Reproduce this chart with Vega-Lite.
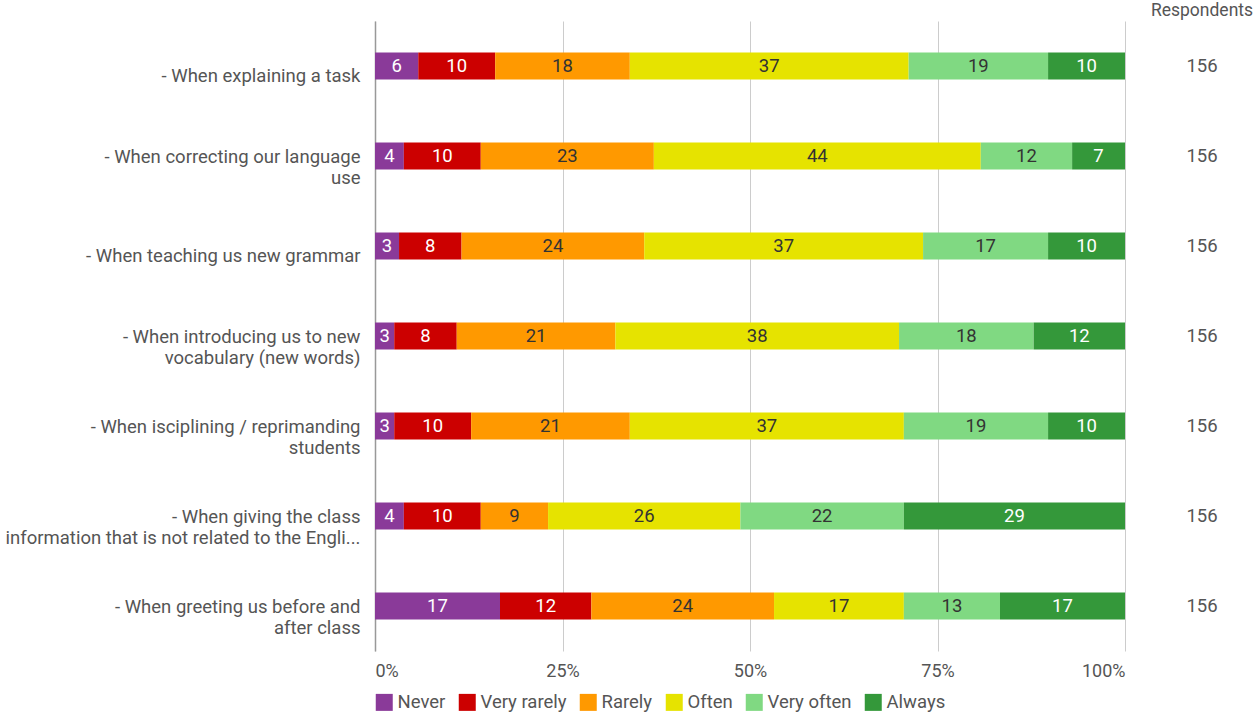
{
  "$schema": "https://vega.github.io/schema/vega-lite/v6.json",
  "padding": {"left": 5, "top": 1, "right": 0, "bottom": 0},
  "background": "white",
  "config": {
    "font": "Roboto",
    "view": {"stroke": null},
    "axis": {"labelFont": "Roboto", "labelColor": "#555555", "titleFont": "Roboto"},
    "legend": {"labelFont": "Roboto"}
  },
  "datasets": {
    "resp": [
      {"q": "- When explaining a task", "cat": "Never", "k": 1, "n": 9, "pct": 6},
      {"q": "- When explaining a task", "cat": "Very rarely", "k": 2, "n": 16, "pct": 10},
      {"q": "- When explaining a task", "cat": "Rarely", "k": 3, "n": 28, "pct": 18},
      {"q": "- When explaining a task", "cat": "Often", "k": 4, "n": 58, "pct": 37},
      {"q": "- When explaining a task", "cat": "Very often", "k": 5, "n": 29, "pct": 19},
      {"q": "- When explaining a task", "cat": "Always", "k": 6, "n": 16, "pct": 10},
      {"q": "- When correcting our language\nuse", "cat": "Never", "k": 1, "n": 6, "pct": 4},
      {"q": "- When correcting our language\nuse", "cat": "Very rarely", "k": 2, "n": 16, "pct": 10},
      {"q": "- When correcting our language\nuse", "cat": "Rarely", "k": 3, "n": 36, "pct": 23},
      {"q": "- When correcting our language\nuse", "cat": "Often", "k": 4, "n": 68, "pct": 44},
      {"q": "- When correcting our language\nuse", "cat": "Very often", "k": 5, "n": 19, "pct": 12},
      {"q": "- When correcting our language\nuse", "cat": "Always", "k": 6, "n": 11, "pct": 7},
      {"q": "- When teaching us new grammar", "cat": "Never", "k": 1, "n": 5, "pct": 3},
      {"q": "- When teaching us new grammar", "cat": "Very rarely", "k": 2, "n": 13, "pct": 8},
      {"q": "- When teaching us new grammar", "cat": "Rarely", "k": 3, "n": 38, "pct": 24},
      {"q": "- When teaching us new grammar", "cat": "Often", "k": 4, "n": 58, "pct": 37},
      {"q": "- When teaching us new grammar", "cat": "Very often", "k": 5, "n": 26, "pct": 17},
      {"q": "- When teaching us new grammar", "cat": "Always", "k": 6, "n": 16, "pct": 10},
      {"q": "- When introducing us to new\nvocabulary (new words)", "cat": "Never", "k": 1, "n": 4, "pct": 3},
      {"q": "- When introducing us to new\nvocabulary (new words)", "cat": "Very rarely", "k": 2, "n": 13, "pct": 8},
      {"q": "- When introducing us to new\nvocabulary (new words)", "cat": "Rarely", "k": 3, "n": 33, "pct": 21},
      {"q": "- When introducing us to new\nvocabulary (new words)", "cat": "Often", "k": 4, "n": 59, "pct": 38},
      {"q": "- When introducing us to new\nvocabulary (new words)", "cat": "Very often", "k": 5, "n": 28, "pct": 18},
      {"q": "- When introducing us to new\nvocabulary (new words)", "cat": "Always", "k": 6, "n": 19, "pct": 12},
      {"q": "- When isciplining / reprimanding\nstudents", "cat": "Never", "k": 1, "n": 4, "pct": 3},
      {"q": "- When isciplining / reprimanding\nstudents", "cat": "Very rarely", "k": 2, "n": 16, "pct": 10},
      {"q": "- When isciplining / reprimanding\nstudents", "cat": "Rarely", "k": 3, "n": 33, "pct": 21},
      {"q": "- When isciplining / reprimanding\nstudents", "cat": "Often", "k": 4, "n": 57, "pct": 37},
      {"q": "- When isciplining / reprimanding\nstudents", "cat": "Very often", "k": 5, "n": 30, "pct": 19},
      {"q": "- When isciplining / reprimanding\nstudents", "cat": "Always", "k": 6, "n": 16, "pct": 10},
      {"q": "- When giving the class\ninformation that is not related to the Engli...", "cat": "Never", "k": 1, "n": 6, "pct": 4},
      {"q": "- When giving the class\ninformation that is not related to the Engli...", "cat": "Very rarely", "k": 2, "n": 16, "pct": 10},
      {"q": "- When giving the class\ninformation that is not related to the Engli...", "cat": "Rarely", "k": 3, "n": 14, "pct": 9},
      {"q": "- When giving the class\ninformation that is not related to the Engli...", "cat": "Often", "k": 4, "n": 40, "pct": 26},
      {"q": "- When giving the class\ninformation that is not related to the Engli...", "cat": "Very often", "k": 5, "n": 34, "pct": 22},
      {"q": "- When giving the class\ninformation that is not related to the Engli...", "cat": "Always", "k": 6, "n": 46, "pct": 29},
      {"q": "- When greeting us before and\nafter class", "cat": "Never", "k": 1, "n": 26, "pct": 17},
      {"q": "- When greeting us before and\nafter class", "cat": "Very rarely", "k": 2, "n": 19, "pct": 12},
      {"q": "- When greeting us before and\nafter class", "cat": "Rarely", "k": 3, "n": 38, "pct": 24},
      {"q": "- When greeting us before and\nafter class", "cat": "Often", "k": 4, "n": 27, "pct": 17},
      {"q": "- When greeting us before and\nafter class", "cat": "Very often", "k": 5, "n": 20, "pct": 13},
      {"q": "- When greeting us before and\nafter class", "cat": "Always", "k": 6, "n": 26, "pct": 17}
    ],
    "totals": [
      {"q": "- When explaining a task", "respondents": 156},
      {"q": "- When correcting our language\nuse", "respondents": 156},
      {"q": "- When teaching us new grammar", "respondents": 156},
      {"q": "- When introducing us to new\nvocabulary (new words)", "respondents": 156},
      {"q": "- When isciplining / reprimanding\nstudents", "respondents": 156},
      {"q": "- When giving the class\ninformation that is not related to the Engli...", "respondents": 156},
      {"q": "- When greeting us before and\nafter class", "respondents": 156}
    ]
  },
  "spacing": 25,
  "hconcat": [
    {
      "width": 750,
      "height": 630,
      "data": {"name": "resp"},
      "encoding": {
        "y": {
          "field": "q", "type": "nominal", "sort": null, "title": null,
          "scale": {"paddingInner": 0.7, "paddingOuter": 0.35},
          "axis": {
            "labelExpr": "split(datum.label, '\\n')",
            "labelFontSize": 18.5, "labelLineHeight": 21, "labelLimit": 420,
            "labelPadding": 15,
            "labelOffset": {"condition": {"test": "indexof(datum.value, '\\n') >= 0", "value": 0.5}, "value": 10},
            "labelBaseline": "middle",
            "ticks": false, "domain": true, "domainColor": "#999999", "domainWidth": 1.5,
            "grid": false
          }
        },
        "order": {"field": "k", "type": "quantitative"}
      },
      "layer": [
        {
          "mark": {"type": "bar"},
          "encoding": {
            "x": {
              "field": "n", "type": "quantitative", "stack": "normalize", "title": null,
              "scale": {"domain": [0, 1]},
              "axis": {
                "values": [0, 0.25, 0.5, 0.75, 1], "format": ".0%",
                "labelFontSize": 18, "labelPadding": 11, "labelFlush": true,
                "ticks": false, "domain": false, "grid": true, "gridColor": "#cccccc"
              }
            },
            "color": {
              "field": "cat", "type": "nominal",
              "scale": {
                "domain": ["Never", "Very rarely", "Rarely", "Often", "Very often", "Always"],
                "range": ["#8a3a99", "#cc0000", "#ff9900", "#e6e300", "#80d982", "#34983a"]
              },
              "legend": {
                "title": null, "orient": "bottom", "direction": "horizontal",
                "symbolType": "square", "symbolSize": 289, "symbolStrokeWidth": 0,
                "labelFontSize": 18.5, "labelColor": "#555555", "labelOffset": 4,
                "columnPadding": 12, "offset": 13
              }
            }
          }
        },
        {
          "mark": {"type": "text", "fontSize": 18.5, "font": "Roboto"},
          "encoding": {
            "x": {"field": "n", "type": "quantitative", "stack": "normalize", "bandPosition": 0.5},
            "detail": {"field": "cat"},
            "text": {"field": "pct", "type": "quantitative"},
            "color": {
              "condition": {"test": "indexof(['Never','Very rarely','Always'], datum.cat) >= 0", "value": "#ffffff"},
              "value": "#333333"
            }
          }
        }
      ]
    },
    {
      "width": 100,
      "height": 630,
      "data": {"name": "totals"},
      "title": {"text": "Respondents", "fontSize": 17.5, "color": "#555555", "fontWeight": "normal", "font": "Roboto", "anchor": "middle", "offset": 2},
      "mark": {"type": "text", "fontSize": 18.5, "color": "#555555", "font": "Roboto"},
      "encoding": {
        "y": {
          "field": "q", "type": "nominal", "sort": null, "axis": null,
          "scale": {"paddingInner": 0.7, "paddingOuter": 0.35}
        },
        "text": {"field": "respondents", "type": "quantitative"}
      }
    }
  ]
}
